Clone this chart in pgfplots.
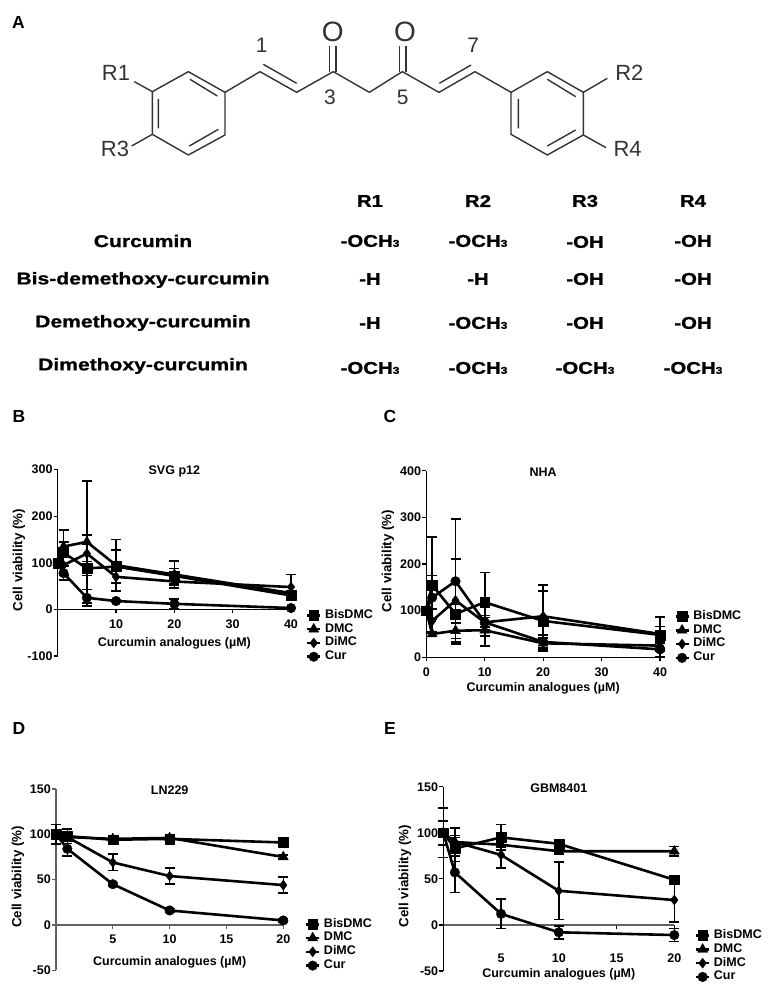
\documentclass[border=0pt]{standalone}
\usepackage{fontspec}
\usepackage{graphicx}
\usepackage{pgfplots}
\usepackage{pgfplotstable}
\pgfplotsset{compat=1.18}
\setmainfont{Liberation Sans}
\newfontface\heavy{Liberation Sans Bold}[FakeBold=1]
\definecolor{chem}{HTML}{333333}
\newcommand{\tf}{\fontsize{12.5}{13}\bfseries\selectfont}
\newcommand{\rowfont}{\fontsize{17}{18}\heavy\selectfont}
\newcommand{\OCH}{\scalebox{1.2}[1]{-OCH{\fontsize{10}{10}\heavy\selectfont 3}}}
\newcommand{\HH}{\scalebox{1.2}[1]{-H}}
\newcommand{\OH}{\scalebox{1.2}[1]{-OH}}

% x  BisDMC +/-  DMC +/-  DiMC +/-  Cur +/-
\pgfplotstableread{
x  B   Bp Bm  M   Mp  Mm  D   Dp Dm  C   Cp  Cm
0  100 2  2   100 2   2   100 2  2   100 2   2
1  122 48 48  135 10  10  95  20 20  78  15  15
5  88  15 15  145 131 131 120 40 40  25  18  18
10 92  35 35  95  55  55  70  30 30  18  3   3
20 72  16 16  75  29  29  60  8  8   12  10  10
40 30  8  8   35  5   5   48  27 27  3   1   1
}\tabB
\pgfplotstableread{
x  B   Bp  Bm  M   Mp Mm  D   Dp Dm  C   Cp  Cm
0  100 3   3   100 3  3   100 3  3   100 3   3
1  155 103 103 50  5  5   78  25 25  128 47  47
5  93  20  20  57  17 17  122 89 89  163 134 134
10 118 64  94  58  12 12  75  15 15  75  10  10
20 78  64  64  30  12 12  88  67 67  33  15  15
40 48  18  18  25  10 10  50  37 37  17  16  16
}\tabC
\pgfplotstableread{
x  B   Bp Bm  M   Mp Mm  D   Dp Dm  C   Cp Cm
0  100 11 11  100 2  2   100 2  2   100 2  2
1  98  8  8   97  3  3   97  3  3   84  8  8
5  94  2  2   95  3  3   69  9  9   45  2  2
10 95  2  2   96  2  2   54  9  9   16  2  2
20 91  2  2   75  2  2   44  9  9   5   2  2
}\tabD
\pgfplotstableread{
x  B   Bp Bm  M   Mp Mm  D   Dp Dm  C   Cp Cm
0  100 13 13  100 13 13  100 13 13  100 27 27
1  83  14 14  90  15 15  90  5  5   57  22 22
5  95  14 14  87  3  3   76  14 14  12  16 16
10 88  3  3   80  3  3   37  31 31  -8  7  7
20 49  3  3   80  5  5   27  24 24  -11 7  7
}\tabE

\pgfplotsset{
  panel/.style={
    scale only axis, clip=false,
    axis x line=middle, axis y line=left,
    axis line style={-,line width=1.2pt},
    every tick/.style={line width=1.2pt,black},
    major tick length=4pt, tick align=outside,
    hide obscured x ticks=false, hide obscured y ticks=false,
    minor tick num=0,
    tick label style={font=\tf},
    /pgf/number format/assume math mode=true,
    yticklabel style={inner sep=1pt},
    every axis title shift=0pt,
    title style={font=\tf,anchor=center},
    xlabel style={font=\tf,anchor=center},
    ylabel style={font=\fontsize{13.3}{14}\bfseries\selectfont,anchor=center},
    legend style={draw=none,fill=none,font=\tf,inner sep=0pt,outer sep=0pt,anchor=west,
      row sep=0pt,/tikz/column 1/.style={column sep=3.5pt},
      nodes={inner sep=0pt,text height=9.8pt,text depth=4pt}},
    legend cell align=left,
    legend image code/.code={\draw[mark repeat=2,mark phase=2,##1] plot coordinates {(0pt,0pt)(6.5pt,0pt)(13pt,0pt)};},
  },
  s/.style={black,line width=2.6pt,line join=round,solid,mark options={solid,line width=0.4pt},
    error bars/y dir=both, error bars/y explicit,
    error bars/error bar style={line width=1.6pt},
    error bars/error mark options={rotate=90,mark size=5pt,line width=1.6pt}},
  sB/.style={s,mark=square*,mark size=4.9pt},
  sM/.style={s,mark=triangle*,mark size=5.8pt},
  sD/.style={s,mark=diamond*,mark size=5pt},
  sC/.style={s,mark=*,mark size=4.8pt},
}
\newcommand{\allseries}[1]{%
  \addplot[sB] table[x=x,y=B,y error plus=Bp,y error minus=Bm] {#1};
  \addplot[sM] table[x=x,y=M,y error plus=Mp,y error minus=Mm] {#1};
  \addplot[sD] table[x=x,y=D,y error plus=Dp,y error minus=Dm] {#1};
  \addplot[sC] table[x=x,y=C,y error plus=Cp,y error minus=Cm] {#1};
  \legend{BisDMC,DMC,DiMC,Cur}
}

\begin{document}
\begin{tikzpicture}[x=1pt,y=1pt]
\path[use as bounding box] (0,0) rectangle (771,991);

% panel letters
\foreach \l/\a/\b in {A/18.5/22,B/19/416,C/390/416,D/19/728,E/390/728}
  \node[font=\fontsize{17.5}{18}\bfseries\selectfont,anchor=center] at (\a,{991-\b}) {\l};

% chemical structure, left half
\begin{scope}[xshift=90pt,yshift=971pt,x=0.33333pt,y=-0.33333pt,chem,line width=1.4pt,line join=round]
  \draw (187,215)--(295,155)--(405,217)--(405,345)--(295,405)--(187,343)--cycle;
  \draw (187,343)--(125,378);
  \draw (133,185)--(187,215);
  \draw (205,237)--(205,325) (300,178)--(382,228) (298,378)--(385,328);
  \draw (405,217)--(510,155)--(620,217)--(730,155)--(838,217);
  \draw (520,133)--(620,190);
  \draw (718,155)--(718,78) (738,155)--(738,78);
  \node[font=\fontsize{22}{22}\selectfont,text=chem] at (78,158) {R1};
  \node[font=\fontsize{22}{22}\selectfont,text=chem] at (75,387) {R3};
  \node[font=\fontsize{21}{21}\selectfont,text=chem] at (515,75) {1};
  \node[font=\fontsize{21}{21}\selectfont,text=chem] at (720,232) {3};
  \node[font=\fontsize{28}{28}\selectfont,text=chem] at (728,35) {O};
\end{scope}
% chemical structure, right half
\begin{scope}[xshift=370pt,yshift=971pt,x=0.33333pt,y=-0.33333pt,chem,line width=1.4pt,line join=round]
  \draw (-2,217)--(97,155)--(207,217)--(315,155)--(423,217)--(532,155)--(640,217)--(640,345)--(532,405)--(423,343)--(423,217);
  \draw (208,190)--(303,135);
  \draw (88,155)--(88,78) (108,155)--(108,78);
  \draw (445,237)--(445,325) (532,178)--(617,230) (532,378)--(617,330);
  \draw (640,217)--(712,175) (640,345)--(708,383);
  \node[font=\fontsize{22}{22}\selectfont,text=chem] at (778,158) {R2};
  \node[font=\fontsize{22}{22}\selectfont,text=chem] at (773,387) {R4};
  \node[font=\fontsize{21}{21}\selectfont,text=chem] at (310,75) {7};
  \node[font=\fontsize{21}{21}\selectfont,text=chem] at (98,232) {5};
  \node[font=\fontsize{28}{28}\selectfont,text=chem] at (105,35) {O};
\end{scope}

% substituent table
\begin{scope}[every node/.style={font=\rowfont,anchor=center,inner sep=0pt}]
  \node at (370,{991-201}) {\scalebox{1.2}[1]{R1}};
  \node at (478,{991-201}) {\scalebox{1.2}[1]{R2}};
  \node at (585,{991-201}) {\scalebox{1.2}[1]{R3}};
  \node at (693,{991-201}) {\scalebox{1.2}[1]{R4}};
  \node at (143,{991-241}) {\scalebox{1.24}[1]{Curcumin}};
  \node at (143,{991-280}) {\scalebox{1.24}[1]{Bis-demethoxy-curcumin}};
  \node at (143,{991-323}) {\scalebox{1.24}[1]{Demethoxy-curcumin}};
  \node at (143,{991-366}) {\scalebox{1.24}[1]{Dimethoxy-curcumin}};
  \node at (370,{991-241}) {\OCH}; \node at (478,{991-241}) {\OCH}; \node at (585,{991-242}) {\OH}; \node at (693,{991-241}) {\OH};
  \node at (370,{991-279}) {\HH};  \node at (478,{991-279}) {\HH};  \node at (585,{991-279}) {\OH}; \node at (693,{991-279}) {\OH};
  \node at (370,{991-323}) {\HH};  \node at (478,{991-323}) {\OCH}; \node at (585,{991-323}) {\OH}; \node at (693,{991-323}) {\OH};
  \node at (370,{991-368}) {\OCH}; \node at (478,{991-368}) {\OCH}; \node at (585,{991-368}) {\OCH}; \node at (693,{991-368}) {\OCH};
\end{scope}

% B
\begin{axis}[panel, at={(57.7pt,335pt)}, anchor=south west, width=233.3pt, height=186.3pt,
  xmin=0,xmax=40,ymin=-100,ymax=300,
  xtick={10,20,30,40}, ytick={-100,0,100,200,300},
  xticklabel style={yshift=-3pt},
  title={SVG p12}, title style={at={(axis description cs:0.5,0.992)}},
  xlabel={Curcumin analogues (µM)}, xlabel style={at={(axis description cs:0.5,0.07)}},
  ylabel={Cell viability (\%)}, ylabel style={at={(axis description cs:-0.166,0.515)}},
  legend style={at={(axis description cs:1.064,0.107)}}]
  \allseries{\tabB}
\end{axis}
% C
\begin{axis}[panel, at={(426.3pt,333.7pt)}, anchor=south west, width=233.7pt, height=186.6pt,
  xmin=0,xmax=40,ymin=0,ymax=400,
  xtick={0,10,20,30,40}, ytick={0,100,200,300,400},
  xticklabel style={yshift=-3pt},
  title={NHA}, title style={at={(axis description cs:0.5,0.99)}},
  xlabel={Curcumin analogues (µM)}, xlabel style={at={(axis description cs:0.5,-0.165)}},
  ylabel={Cell viability (\%)}, ylabel style={at={(axis description cs:-0.164,0.516)}},
  legend style={at={(axis description cs:1.061,0.108)}}]
  \allseries{\tabC}
\end{axis}
% D
\begin{axis}[panel, axis line style={-,line width=1.2pt,black!62}, every tick/.style={line width=1.2pt,black!62},
  at={(56pt,20.7pt)}, anchor=south west, width=227.3pt, height=181.3pt,
  xmin=0,xmax=20,ymin=-50,ymax=150,
  xtick={5,10,15,20}, ytick={-50,0,50,100,150},
  xticklabel style={yshift=-2pt},
  title={LN229}, title style={at={(axis description cs:0.5,0.992)}},
  xlabel={Curcumin analogues (µM)}, xlabel style={at={(axis description cs:0.5,0.046)}},
  ylabel={Cell viability (\%)}, ylabel style={at={(axis description cs:-0.167,0.515)}},
  legend style={at={(axis description cs:1.095,0.14)}}]
  \allseries{\tabD}
\end{axis}
% E
\begin{axis}[panel, x axis line style={-,line width=1.2pt,black!62},
  at={(443.3pt,20pt)}, anchor=south west, width=231pt, height=184.3pt,
  xmin=0,xmax=20,ymin=-50,ymax=150,
  xtick={5,10,15,20}, ytick={-50,0,50,100,150},
  xticklabel style={yshift=-21pt},
  title={GBM8401}, title style={at={(axis description cs:0.5,0.992)}},
  xlabel={Curcumin analogues (µM)}, xlabel style={at={(axis description cs:0.5,-0.016)}},
  ylabel={Cell viability (\%)}, ylabel style={at={(axis description cs:-0.166,0.515)}},
  legend style={at={(axis description cs:1.089,0.08)}}]
  \allseries{\tabE}
\end{axis}
\end{tikzpicture}
\end{document}
